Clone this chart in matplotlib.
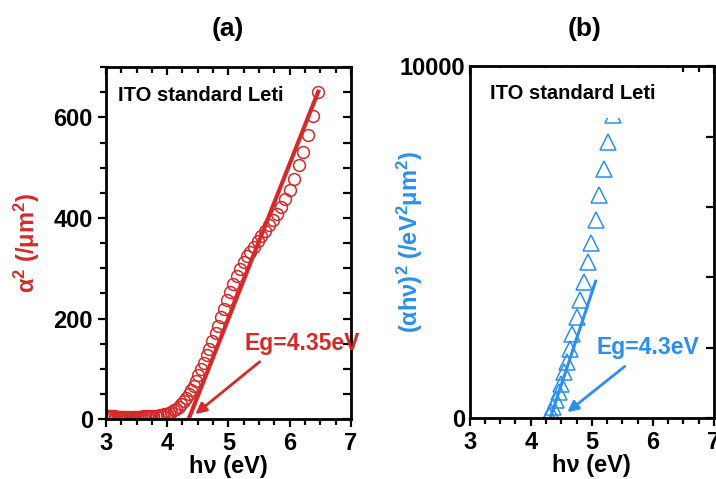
import matplotlib
matplotlib.use("Agg")
import matplotlib.pyplot as plt
from matplotlib.ticker import MultipleLocator, FixedLocator

plt.rcParams['font.family'] = ['Liberation Sans', 'DejaVu Sans']
plt.rcParams['font.weight'] = 'bold'
plt.rcParams['mathtext.fontset'] = 'custom'
plt.rcParams['mathtext.rm'] = 'Liberation Sans:bold'
plt.rcParams['mathtext.bf'] = 'Liberation Sans:bold'
plt.rcParams['mathtext.it'] = 'Liberation Sans:bold'
plt.rcParams['mathtext.default'] = 'bf'

RED = '#d42a2a'
BLUE = '#2a8ff0'

# ---- panel (a) data: alpha^2 vs photon energy
a_x = [3.00, 3.02, 3.04, 3.07, 3.09, 3.12, 3.14, 3.17, 3.19, 3.22, 3.25, 3.27, 3.30,
       3.33, 3.36, 3.39, 3.42, 3.45, 3.48, 3.51, 3.54, 3.57, 3.60, 3.64, 3.67, 3.70,
       3.74, 3.77, 3.81, 3.84, 3.88, 3.92, 3.95, 3.99, 4.03, 4.07, 4.11, 4.15, 4.19,
       4.23, 4.27, 4.31, 4.35, 4.39, 4.43, 4.47, 4.51, 4.56, 4.60, 4.65, 4.69, 4.74,
       4.79, 4.83, 4.88, 4.93, 4.98, 5.03, 5.08, 5.14, 5.19, 5.25, 5.30, 5.36, 5.42,
       5.48, 5.54, 5.60, 5.66, 5.73, 5.79, 5.86, 5.93, 6.00, 6.07, 6.15, 6.22, 6.30,
       6.38, 6.47]
a_y = [7, 7, 6, 6, 6, 6, 6, 5, 5, 5, 5, 5, 5,
       5, 5, 5, 5, 5, 5, 5, 5, 5, 6, 6, 6, 6,
       6, 7, 7, 7, 8, 9, 10, 11, 13, 15, 18, 21, 25,
       30, 36, 42, 49, 57, 66, 76, 87, 100, 112, 127, 140, 156,
       172, 186, 203, 219, 236, 252, 268, 284, 298, 312, 324, 333, 343,
       354, 364, 374, 385, 396, 407, 422, 437, 455, 478, 505, 532, 565,
       603, 650]
a_fit_x = [4.35, 6.48]
a_fit_y = [0, 655]

# ---- panel (b) data: (alpha h nu)^2 vs photon energy
b_x = [4.30, 4.33, 4.37, 4.41, 4.46, 4.49, 4.55, 4.59, 4.64, 4.68, 4.75, 4.80, 4.88,
       4.93, 4.99, 5.07, 5.12, 5.20, 5.27, 5.34, 5.42]
b_y = [76, 170, 313, 502, 739, 976, 1308, 1592, 1972, 2398, 2872, 3346, 3867,
       4436, 4976, 5621, 6332, 7090, 7848, 8607, 9800]
b_fit_x = [4.32, 5.07]
b_fit_y = [0, 3930]

fig = plt.figure(figsize=(7.16, 4.79), dpi=100)

def style_axes(ax, xmin, xmax, ymin, ymax):
    ax.set_xlim(xmin, xmax)
    ax.set_ylim(ymin, ymax)
    for s in ax.spines.values():
        s.set_linewidth(2)
    ax.xaxis.set_major_locator(MultipleLocator(1))
    ax.xaxis.set_minor_locator(MultipleLocator(0.25))
    ax.tick_params(axis='both', which='both', direction='out', width=1.6,
                   labelsize=17, top=False, right=False)
    ax.tick_params(which='major', length=6)
    ax.tick_params(which='minor', length=4)
    for lab in ax.get_xticklabels() + ax.get_yticklabels():
        lab.set_fontweight('bold')
    # mirrored inward ticks on top and right
    top = ax.secondary_xaxis('top')
    top.xaxis.set_major_locator(MultipleLocator(1))
    top.xaxis.set_minor_locator(MultipleLocator(0.25))
    top.tick_params(which='both', direction='in', width=1.6, labeltop=False)
    top.tick_params(which='major', length=6)
    top.tick_params(which='minor', length=4)
    return top

# ---------------- panel (a)
axa = fig.add_axes([0.148, 0.125, 0.342, 0.735])
axa.plot(a_x, a_y, linestyle='none', marker='o', markersize=8.5,
         markerfacecolor='none', markeredgecolor=RED, markeredgewidth=1.1)
axa.plot(a_fit_x, a_fit_y, color=RED, lw=3, solid_capstyle='butt')
style_axes(axa, 3, 7, 0, 700)
axa.yaxis.set_major_locator(MultipleLocator(200))
axa.yaxis.set_minor_locator(MultipleLocator(50))
righta = axa.secondary_yaxis('right')
righta.yaxis.set_major_locator(MultipleLocator(200))
righta.yaxis.set_minor_locator(MultipleLocator(50))
righta.tick_params(which='both', direction='in', width=1.6, labelright=False)
righta.tick_params(which='major', length=6)
righta.tick_params(which='minor', length=6)
axa.set_xlabel('hν (eV)', fontsize=17, fontweight='bold', labelpad=0)
axa.set_ylabel('α$^2$ (/μm$^2$)', fontsize=17, fontweight='bold', color=RED, labelpad=8)
axa.text(0.05, 0.918, 'ITO standard Leti', transform=axa.transAxes, fontsize=14.5,
         fontweight='bold', va='center', ha='left')
axa.annotate('', xy=(4.46, 10), xytext=(5.51, 114),
             arrowprops=dict(arrowstyle='-|>', color=RED, lw=2, mutation_scale=16,
                             shrinkA=0, shrinkB=0))
axa.text(5.27, 151, 'Eg=4.35eV', fontsize=16.5, fontweight='bold', color=RED,
         va='center', ha='left', clip_on=False)
fig.text(0.318, 0.94, '(a)', fontsize=19, fontweight='bold', ha='center', va='center')

# ---------------- panel (b)
axb = fig.add_axes([0.656, 0.127, 0.341, 0.735])
axb.plot(b_x, b_y, linestyle='none', marker='^', markersize=11,
         markerfacecolor='none', markeredgecolor=BLUE, markeredgewidth=1.1)
axb.plot(b_fit_x, b_fit_y, color=BLUE, lw=2.2, solid_capstyle='butt')
style_axes(axb, 3, 7, 0, 10000)
axb.yaxis.set_major_locator(FixedLocator([0, 10000]))
axb.yaxis.set_minor_locator(FixedLocator([]))
axb.tick_params(axis='y', which='major', length=0)
rightb = axb.secondary_yaxis('right')
rightb.yaxis.set_major_locator(MultipleLocator(2000))
rightb.tick_params(which='both', direction='in', width=1.6, labelright=False, length=6)
axb.set_xlabel('hν (eV)', fontsize=17, fontweight='bold', labelpad=0)
axb.set_ylabel('(αhν)$^2$ (/eV$^2$μm$^2$)', fontsize=17, fontweight='bold',
               color=BLUE, labelpad=4)
axb.yaxis.set_label_coords(-0.185, 0.5)
axb.text(0.082, 0.923, 'ITO standard Leti', transform=axb.transAxes, fontsize=14.5,
         fontweight='bold', va='center', ha='left', zorder=10,
         bbox=dict(facecolor='white', edgecolor='none', pad=11))
axb.annotate('', xy=(4.60, 170), xytext=(5.54, 1470),
             arrowprops=dict(arrowstyle='-|>', color=BLUE, lw=2, mutation_scale=16,
                             shrinkA=0, shrinkB=0))
axb.text(5.07, 2020, 'Eg=4.3eV', fontsize=16.5, fontweight='bold', color=BLUE,
         va='center', ha='left', clip_on=False)
fig.text(0.817, 0.94, '(b)', fontsize=19, fontweight='bold', ha='center', va='center')

fig.savefig('out.png', dpi=100)
